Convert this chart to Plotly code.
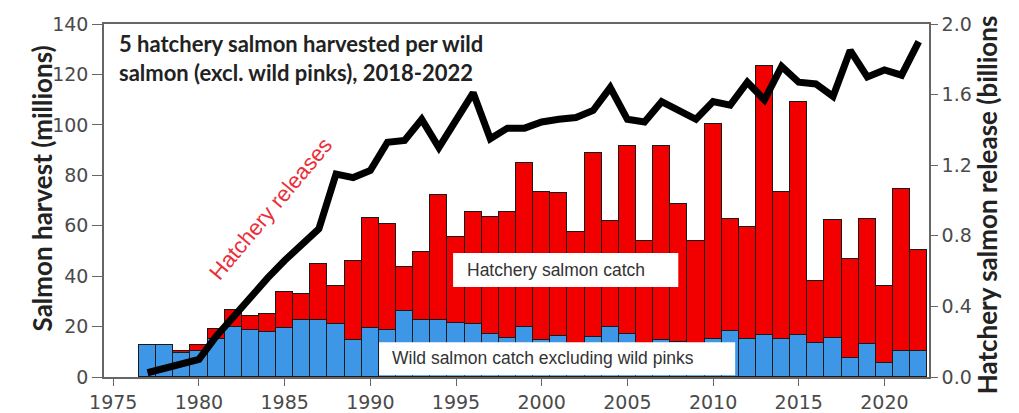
import plotly.graph_objects as go

years = list(range(1977, 2023))
wild_catch = [12.6, 12.6, 9.5, 10.3, 15.0, 20.0, 18.5, 18.0, 19.3, 22.5,
              22.7, 20.9, 14.6, 19.3, 18.8, 26.2, 22.5, 22.5, 21.6, 21.2,
              17.0, 15.6, 19.9, 14.6, 16.3, 13.0, 15.9, 19.9, 17.0, 13.0,
              14.6, 14.0, 13.0, 15.0, 18.3, 15.0, 16.7, 15.0, 16.7, 13.6,
              15.6, 7.7, 13.0, 5.7, 10.3, 10.3]
hatchery_catch = [0.0, 0.0, 0.8, 2.3, 4.2, 6.5, 5.7, 6.9, 14.6, 10.4,
                  22.3, 15.3, 31.3, 43.6, 41.8, 17.3, 26.9, 49.5, 33.8, 44.1,
                  46.3, 49.7, 64.9, 58.7, 56.7, 44.4, 72.9, 42.1, 74.8, 41.0,
                  77.0, 54.7, 41.0, 85.5, 44.4, 44.4, 106.6, 58.3, 92.3, 24.3,
                  46.7, 39.1, 49.7, 30.5, 64.3, 40.1]
releases = [0.024, 0.05, 0.075, 0.10, 0.23, 0.34, 0.46, 0.56, 0.66, 0.75,
            0.84, 1.15, 1.13, 1.17, 1.33, 1.34, 1.46, 1.30, 1.46, 1.61,
            1.35, 1.41, 1.41, 1.445, 1.46, 1.47, 1.51, 1.64, 1.46, 1.445,
            1.56, 1.51, 1.46, 1.56, 1.54, 1.67, 1.57, 1.76, 1.67, 1.66,
            1.59, 1.85, 1.70, 1.74, 1.71, 1.90]

left_ticks = [0, 20, 40, 60, 80, 100, 120, 140]
right_ticks = [0.0, 0.4, 0.8, 1.2, 1.6, 2.0]
x_ticks = [1975, 1980, 1985, 1990, 1995, 2000, 2005, 2010, 2015, 2020]

tick_font = dict(family="DejaVu Sans", size=19, color="#4a4a4a")
axis_col = "#666666"

fig = go.Figure()
fig.add_trace(go.Bar(x=years, y=wild_catch, width=1.0,
                     marker=dict(color="#3d97e6", line=dict(color="#1a1a1a", width=1)),
                     name="Wild"))
fig.add_trace(go.Bar(x=years, y=hatchery_catch, width=1.0,
                     marker=dict(color="#f20000", line=dict(color="#1a1a1a", width=1)),
                     name="Hatchery"))
fig.add_trace(go.Scatter(x=years, y=releases, yaxis="y2", mode="lines",
                         line=dict(color="black", width=7), name="Releases"))

fig.update_layout(
    width=1019, height=413,
    margin=dict(l=104, r=90, t=24, b=36, autoexpand=False),
    barmode="stack", bargap=0,
    showlegend=False,
    plot_bgcolor="white", paper_bgcolor="white",
    xaxis=dict(range=[1974.46, 2022.6], tickvals=x_ticks, ticks="outside",
               ticklen=7, tickcolor=axis_col, showline=True, linecolor=axis_col,
               linewidth=1.5, mirror=True, showgrid=False, zeroline=False,
               tickfont=tick_font, automargin=False),
    yaxis=dict(range=[0, 140], tickvals=left_ticks, ticks="outside",
               ticklen=10, tickcolor=axis_col, showline=True, linecolor=axis_col,
               linewidth=1.5, showgrid=False, zeroline=False, tickfont=tick_font,
               automargin=False),
    yaxis2=dict(range=[0, 2.0], tickvals=right_ticks, tickformat=".1f",
                overlaying="y", side="right", ticks="outside", ticklen=7,
                tickcolor=axis_col, showline=True, linecolor=axis_col,
                linewidth=1.5, showgrid=False, zeroline=False, tickfont=tick_font,
                automargin=False),
    font=dict(family="Liberation Sans"),
)

fig.add_shape(type="rect", xref="x", yref="y", x0=1994.83, x1=2007.97,
              y0=35.65, y1=49.2, fillcolor="white", line=dict(width=0), layer="above")
fig.add_shape(type="rect", xref="x", yref="y", x0=1990.51, x1=2011.29,
              y0=0.7, y1=13.8, fillcolor="white", line=dict(width=0), layer="above")

fig.add_annotation(x=1995.53, y=42.4, xref="x", yref="y", xanchor="left",
                   text="Hatchery salmon catch", showarrow=False,
                   font=dict(family="Liberation Sans", size=17.5, color="#333333"))
fig.add_annotation(x=1991.15, y=7.4, xref="x", yref="y", xanchor="left",
                   text="Wild salmon catch excluding wild pinks", showarrow=False,
                   font=dict(family="Liberation Sans", size=17.5, color="#333333"))
fig.add_annotation(x=1975.2, y=138.5, xref="x", yref="y", xanchor="left",
                   yanchor="top", align="left",
                   text="5 hatchery salmon harvested per wild<br>salmon (excl. wild pinks), 2018-2022",
                   showarrow=False,
                   font=dict(family="Lato", size=22, color="#222222", weight="bold"))
fig.add_annotation(x=1984.2, y=66.8, xref="x", yref="y", textangle=-50,
                   text="Hatchery releases", showarrow=False,
                   font=dict(family="Liberation Sans", size=22, color="#ea2f3a"))
fig.add_annotation(x=-0.0958, y=0.534, xref="paper", yref="paper", textangle=-90,
                   text="Salmon harvest (millions)", showarrow=False,
                   font=dict(family="Lato", size=26, color="#222222", weight="bold"))
fig.add_annotation(x=1.092, y=0.489, xref="paper", yref="paper", textangle=-90,
                   text="Hatchery salmon release (billions", showarrow=False,
                   font=dict(family="Lato", size=26, color="#222222", weight="bold"))

fig.write_html("out.html")
